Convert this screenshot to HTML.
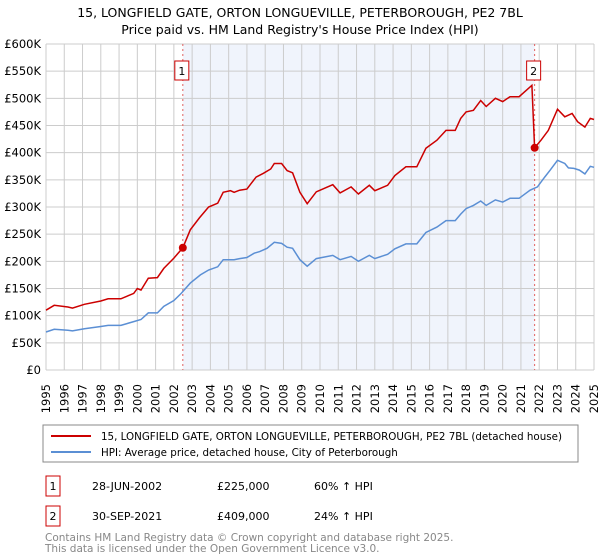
<!DOCTYPE html>
<html><head><meta charset="utf-8"><style>
body{margin:0;width:600px;height:560px;background:#fff;font-family:"DejaVu Sans","Liberation Sans",sans-serif;overflow:hidden;position:relative}
svg{position:absolute;left:0;top:0}
.yr{position:absolute;font-size:11.5px;line-height:12px;width:12px;height:37px;white-space:nowrap;writing-mode:vertical-rl;writing-mode:sideways-lr;text-align:start}
</style></head><body>
<svg id="c" width="600" height="560">
<text x="300" y="17" text-anchor="middle" font-size="12.5">15, LONGFIELD GATE, ORTON LONGUEVILLE, PETERBOROUGH, PE2 7BL</text>
<text x="300" y="34" text-anchor="middle" font-size="12.5">Price paid vs. HM Land Registry's House Price Index (HPI)</text>
<g id="plot"></g>
<rect x="43" y="425" width="535" height="37" fill="#fff" stroke="#888"/>
<line x1="51" y1="436" x2="91" y2="436" stroke="#cc0000" stroke-width="2"/>
<text x="101" y="440" font-size="10.3">15, LONGFIELD GATE, ORTON LONGUEVILLE, PETERBOROUGH, PE2 7BL (detached house)</text>
<line x1="51" y1="452" x2="91" y2="452" stroke="#5b8fd4" stroke-width="2"/>
<text x="101" y="456" font-size="10.3">HPI: Average price, detached house, City of Peterborough</text>
<g font-size="11">
<rect x="46" y="476" width="14" height="20" fill="#fff" stroke="#cc0000"/>
<text x="53" y="490" text-anchor="middle">1</text>
<text x="92" y="490">28-JUN-2002</text>
<text x="217" y="490">£225,000</text>
<text x="314" y="490">60% ↑ HPI</text>
<rect x="46" y="506" width="14" height="20" fill="#fff" stroke="#cc0000"/>
<text x="53" y="520" text-anchor="middle">2</text>
<text x="92" y="520">30-SEP-2021</text>
<text x="217" y="520">£409,000</text>
<text x="314" y="520">24% ↑ HPI</text>
</g>
<text x="45" y="541" font-size="10.5" fill="#888">Contains HM Land Registry data © Crown copyright and database right 2025.</text>
<text x="45" y="552" font-size="10.5" fill="#888">This data is licensed under the Open Government Licence v3.0.</text>
</svg>
<div id="xl"></div>
<script>
const yTicks=[0,50,100,150,200,250,300,350,400,450,500,550,600];
const yLabels=["£0","£50K","£100K","£150K","£200K","£250K","£300K","£350K","£400K","£450K","£500K","£550K","£600K"];
const years=[1995,1996,1997,1998,1999,2000,2001,2002,2003,2004,2005,2006,2007,2008,2009,2010,2011,2012,2013,2014,2015,2016,2017,2018,2019,2020,2021,2022,2023,2024,2025];
const saleYears=[2002.49,2021.75];
const salePrices=[225,409];
const saleLabels=["1","2"];
const redX=[1995,1995.45,1996.2,1996.45,1997.1,1998,1998.4,1999.1,1999.8,2000,2000.2,2000.6,2001.1,2001.45,2001.8,2002,2002.49,2002.9,2003.4,2003.9,2004.4,2004.7,2005.1,2005.3,2005.6,2006,2006.2,2006.5,2006.9,2007.3,2007.5,2007.9,2008.2,2008.5,2008.9,2009.3,2009.8,2010.7,2011.1,2011.7,2012.1,2012.7,2013,2013.7,2014.1,2014.7,2015.3,2015.8,2016.4,2016.9,2017.4,2017.7,2018,2018.4,2018.8,2019.1,2019.6,2020,2020.4,2020.9,2021.6,2021.75,2022.1,2022.5,2023,2023.4,2023.8,2024.1,2024.5,2024.8,2025];
const redY=[110,119,116,114,121,127,131,131,141,150,147,169,170,187,199,206,225,258,280,300,307,327,330,327,331,333,342,355,362,370,380,380,367,363,327,306,328,341,326,337,324,340,330,340,358,374,374,408,423,441,441,463,475,478,496,485,500,494,503,503,524,409,423,441,480,466,472,457,447,463,461];
const blueX=[1995,1995.45,1996.2,1996.45,1997.1,1998,1998.4,1999.1,1999.8,2000.2,2000.6,2001.1,2001.45,2002,2002.4,2002.9,2003.45,2003.9,2004.4,2004.7,2005.3,2005.6,2006,2006.4,2006.7,2007.1,2007.5,2007.9,2008.2,2008.5,2008.9,2009.3,2009.8,2010.7,2011.1,2011.7,2012.1,2012.7,2013,2013.7,2014.1,2014.7,2015.3,2015.8,2016.4,2016.9,2017.4,2017.7,2018,2018.4,2018.8,2019.1,2019.6,2020,2020.4,2020.9,2021.5,2021.9,2022.3,2022.6,2023,2023.4,2023.6,2023.9,2024.2,2024.5,2024.8,2025];
const blueY=[70,75,73,72,76,80,82,82,89,93,105,105,117,128,141,160,175,184,190,203,203,205,207,215,218,224,235,233,226,224,203,191,205,211,203,209,200,211,205,213,223,232,232,253,263,275,275,287,297,303,311,303,313,309,316,316,331,337,355,368,386,380,372,371,368,361,375,373];
const L=46,R=594,T=44,B=370;
const xs=v=>L+(v-1995)/30*(R-L);
const ys=v=>B-v/600*(B-T);
const NS="http://www.w3.org/2000/svg";
const g=document.getElementById('plot');
const xl=document.getElementById('xl');
function mk(t,a){const e=document.createElementNS(NS,t);for(const k in a)e.setAttribute(k,a[k]);g.appendChild(e);return e;}
let e=mk('rect',{x:xs(saleYears[0]),y:T,width:xs(saleYears[1])-xs(saleYears[0]),height:B-T,fill:'#f0f4fc'});


for(let i=0;i<years.length;i++){
 e=mk('line',{x1:xs(years[i]),x2:xs(years[i]),y1:T,y2:B,stroke:'#ccc','stroke-width':1});
 
 
 e=document.createElement('div');
 e.className='yr';
 e.style.left=(xs(years[i])-6)+'px';
 e.style.top=(B+6)+'px';
 e.textContent=years[i];
 
 
 xl.appendChild(e);
}
for(let i=0;i<yTicks.length;i++){
 e=mk('line',{x1:L,x2:R,y1:ys(yTicks[i]),y2:ys(yTicks[i]),stroke:'#ccc','stroke-width':1});
 
 
 e=mk('text',{x:41,y:ys(yTicks[i])+4,'font-size':11.5,'text-anchor':'end'});
 e.textContent=yLabels[i];
 
 
}
for(let i=0;i<saleYears.length;i++){
 e=mk('line',{x1:xs(saleYears[i]),x2:xs(saleYears[i]),y1:T,y2:B,stroke:'#e06060','stroke-dasharray':'2,3'});
 
 
}
const pts=(X,Y)=>X.map((x,i)=>xs(x).toFixed(1)+','+ys(Y[i]).toFixed(1)).join(' ');
e=mk('polyline',{points:pts(blueX,blueY),fill:'none',stroke:'#5b8fd4','stroke-width':1.5});


e=mk('polyline',{points:pts(redX,redY),fill:'none',stroke:'#cc0000','stroke-width':1.5});


for(let i=0;i<saleYears.length;i++){
 e=mk('circle',{cx:xs(saleYears[i]),cy:ys(salePrices[i]),r:4,fill:'#cc0000'});
 
 
 e=mk('rect',{x:xs(saleYears[i])-8,y:61,width:14,height:19,fill:'#fff',stroke:'#cc0000'});
 
 
 e=mk('text',{x:xs(saleYears[i])-1,y:75,'font-size':11,'text-anchor':'middle'});
 e.textContent=saleLabels[i];
 
 
}
</script>
</body></html>
